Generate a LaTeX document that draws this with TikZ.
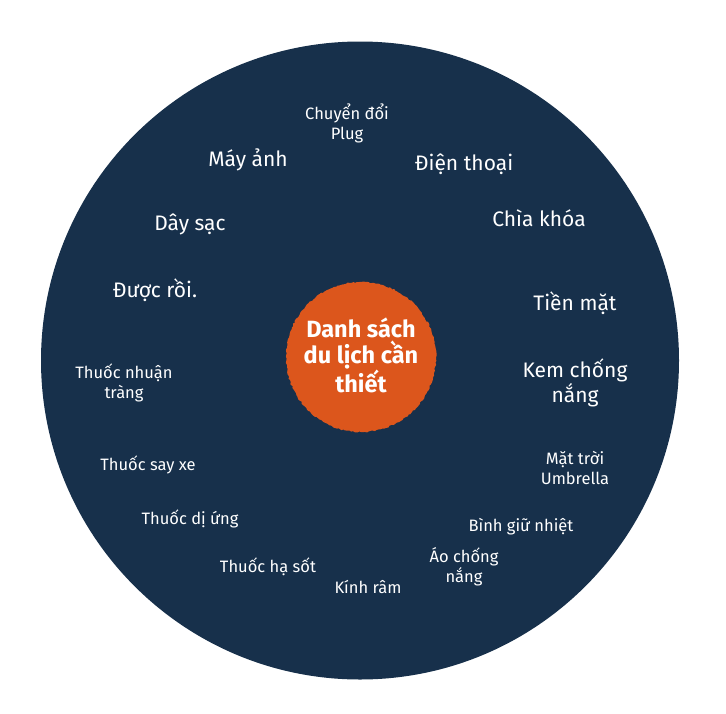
\documentclass[tikz,border=0pt]{standalone}
\usepackage{fontspec}
\setmainfont{Fira Sans}
\usetikzlibrary{decorations.pathmorphing}
\definecolor{navy}{HTML}{17304B}
\definecolor{rust}{HTML}{DC561C}
\tikzset{
  big/.style={text=white,align=center,font=\fontsize{21}{25}\selectfont},
  small/.style={text=white,align=center,font=\fontsize{16.5}{20}\selectfont},
  hub/.style={text=white,align=center,font=\bfseries\fontsize{23.5}{26}\selectfont}
}
\begin{document}
\begin{tikzpicture}[x=1pt,y=-1pt]
\useasboundingbox (0,0) rectangle (726,713);
\fill[navy] (360,360.5) circle (319);
\fill[rust,decorate,decoration={random steps,segment length=2pt,amplitude=0.7pt}] (361,357) circle (75);
\node[hub] (c) at (361,355) {Danh sách\\du lịch cần\\thiết};
\node[small] (n1) at (347,123) {Chuyển đổi\\Plug};
\node[big] (n2) at (248,160) {Máy ảnh};
\node[big] (n3) at (464,164) {Điện thoại};
\node[big] (n4) at (190,224) {Dây sạc};
\node[big] (n5) at (539,218) {Chìa khóa};
\node[big] (n6) at (155,290) {Được rồi.};
\node[big] (n7) at (575,303) {Tiền mặt};
\node[big] (n8) at (575,383) {Kem chống\\nắng};
\node[small] (n9) at (124,383) {Thuốc nhuận\\tràng};
\node[small] (n10) at (148,465) {Thuốc say xe};
\node[small] (n11) at (575,468) {Mặt trời\\Umbrella};
\node[small] (n12) at (190,519) {Thuốc dị ứng};
\node[small] (n13) at (521,527) {Bình giữ nhiệt};
\node[small] (n14) at (464,567) {Áo chống\\nắng};
\node[small] (n15) at (268,567) {Thuốc hạ sốt};
\node[small] (n16) at (368,587) {Kính râm};
\end{tikzpicture}
\end{document}
